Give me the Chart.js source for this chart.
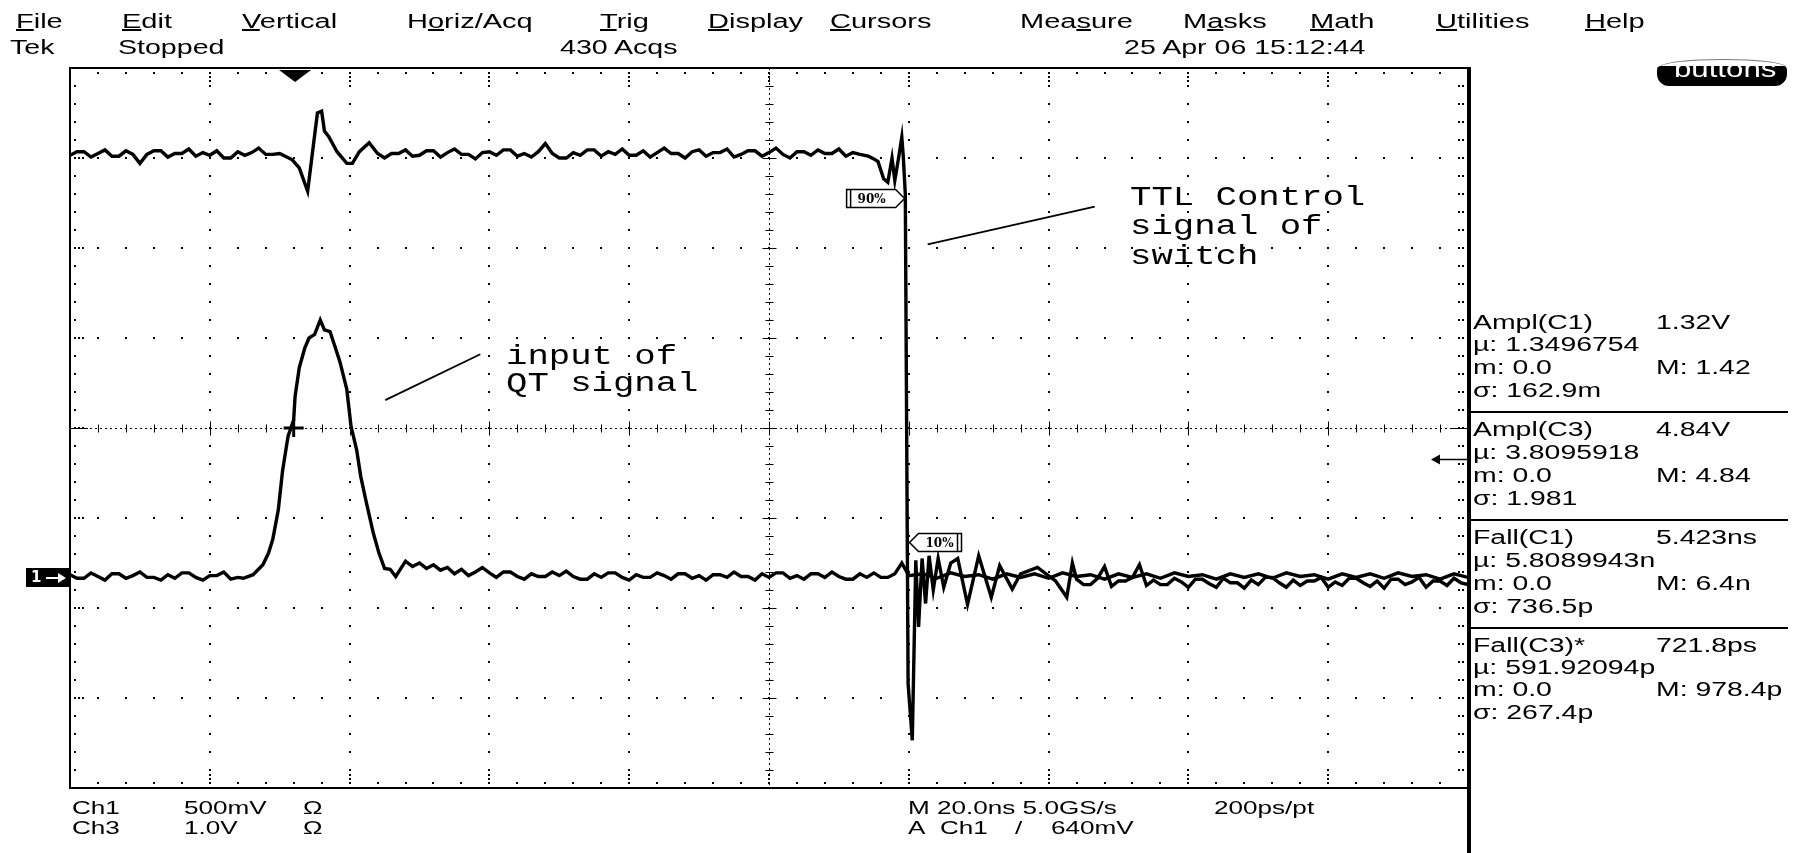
<!DOCTYPE html>
<html>
<head>
<meta charset="utf-8">
<title>Tek scope capture</title>
<script src="https://cdn.jsdelivr.net/npm/chart.js@4.4.1/dist/chart.umd.min.js"></script>
<style>
  html, body { margin: 0; padding: 0; background: #fff; }
  #screen { position: relative; width: 1802px; height: 853px; overflow: hidden; background: #fff; }
  #scope { position: absolute; left: 0; top: 0; }
  .t { position: absolute; white-space: nowrap; color: #000; line-height: 1;
       font-family: "Liberation Sans", Arial, sans-serif; transform-origin: 0 50%; }
  .menu { top: 21px; font-size: 20px; transform: translateY(-50%) scaleX(1.45); }
  .head { top: 46px; font-size: 21px; transform: translateY(-50%) scaleX(1.36); }
  .meas { font-size: 20px; transform: translateY(-50%) scaleX(1.42); }
  .foot { font-size: 18px; transform: translateY(-50%) scaleX(1.45); }
  .note { font-family: "Liberation Mono", "DejaVu Sans Mono", monospace; font-size: 27px;
          transform: translateY(-50%) scaleX(1.32); }
  .sep { position: absolute; left: 1470px; width: 318px; height: 2px; background: #000; }
  #btnRim { position: absolute; left: 1660px; top: 59px; width: 124px; height: 14px;
            border: 1px solid #777; border-radius: 50%; }
  #btn { position: absolute; left: 1657px; top: 66px; width: 130px; height: 20px; background: #000;
         border-radius: 4px 4px 12px 12px; overflow: hidden; }
  #btn span { position: absolute; left: 17px; top: -11px; color: #fff; font-size: 24px;
              font-family: "Liberation Sans", Arial, sans-serif; transform: scaleX(1.3); transform-origin: 0 0; }
</style>
</head>
<body>
<div id="screen">
  <canvas id="scope" width="1802" height="853"></canvas>

  <div class="t menu" style="left:16px"><u>F</u>ile</div>
  <div class="t menu" style="left:122px"><u>E</u>dit</div>
  <div class="t menu" style="left:242px"><u>V</u>ertical</div>
  <div class="t menu" style="left:407px">H<u>o</u>riz/Acq</div>
  <div class="t menu" style="left:600px"><u>T</u>rig</div>
  <div class="t menu" style="left:708px"><u>D</u>isplay</div>
  <div class="t menu" style="left:830px"><u>C</u>ursors</div>
  <div class="t menu" style="left:1020px">Mea<u>s</u>ure</div>
  <div class="t menu" style="left:1183px">M<u>a</u>sks</div>
  <div class="t menu" style="left:1310px"><u>M</u>ath</div>
  <div class="t menu" style="left:1436px"><u>U</u>tilities</div>
  <div class="t menu" style="left:1585px"><u>H</u>elp</div>

  <div class="t head" style="left:10px">Tek</div>
  <div class="t head" style="left:118px">Stopped</div>
  <div class="t head" style="left:560px">430 Acqs</div>
  <div class="t head" style="left:1124px">25 Apr 06 15:12:44</div>

  <div id="btnRim"></div>
  <div id="btn"><span>buttons</span></div>

  <div class="t meas" style="left:1473px;top:322px">Ampl(C1)</div>
  <div class="t meas" style="left:1656px;top:322px">1.32V</div>
  <div class="t meas" style="left:1473px;top:344px">µ: 1.3496754</div>
  <div class="t meas" style="left:1473px;top:367px">m: 0.0</div>
  <div class="t meas" style="left:1656px;top:367px">M: 1.42</div>
  <div class="t meas" style="left:1473px;top:390px">σ: 162.9m</div>
  <div class="sep" style="top:411px"></div>
  <div class="t meas" style="left:1473px;top:429px">Ampl(C3)</div>
  <div class="t meas" style="left:1656px;top:429px">4.84V</div>
  <div class="t meas" style="left:1473px;top:452px">µ: 3.8095918</div>
  <div class="t meas" style="left:1473px;top:475px">m: 0.0</div>
  <div class="t meas" style="left:1656px;top:475px">M: 4.84</div>
  <div class="t meas" style="left:1473px;top:498px">σ: 1.981</div>
  <div class="sep" style="top:519px"></div>
  <div class="t meas" style="left:1473px;top:537px">Fall(C1)</div>
  <div class="t meas" style="left:1656px;top:537px">5.423ns</div>
  <div class="t meas" style="left:1473px;top:560px">µ: 5.8089943n</div>
  <div class="t meas" style="left:1473px;top:583px">m: 0.0</div>
  <div class="t meas" style="left:1656px;top:583px">M: 6.4n</div>
  <div class="t meas" style="left:1473px;top:606px">σ: 736.5p</div>
  <div class="sep" style="top:627px"></div>
  <div class="t meas" style="left:1473px;top:645px">Fall(C3)*</div>
  <div class="t meas" style="left:1656px;top:645px">721.8ps</div>
  <div class="t meas" style="left:1473px;top:667px">µ: 591.92094p</div>
  <div class="t meas" style="left:1473px;top:689px">m: 0.0</div>
  <div class="t meas" style="left:1656px;top:689px">M: 978.4p</div>
  <div class="t meas" style="left:1473px;top:712px">σ: 267.4p</div>

  <div class="t foot" style="left:72px;top:808px">Ch1</div>
  <div class="t foot" style="left:184px;top:808px">500mV</div>
  <div class="t foot" style="left:303px;top:808px">Ω</div>
  <div class="t foot" style="left:72px;top:828px">Ch3</div>
  <div class="t foot" style="left:184px;top:828px">1.0V</div>
  <div class="t foot" style="left:303px;top:828px">Ω</div>
  <div class="t foot" style="left:908px;top:808px">M 20.0ns 5.0GS/s</div>
  <div class="t foot" style="left:1214px;top:808px">200ps/pt</div>
  <div class="t foot" style="left:908px;top:828px">A</div>
  <div class="t foot" style="left:940px;top:828px">Ch1</div>
  <div class="t foot" style="left:1015px;top:828px">/</div>
  <div class="t foot" style="left:1051px;top:828px">640mV</div>

  <div class="t note" style="left:1130px;top:198px">TTL Control</div>
  <div class="t note" style="left:1130px;top:227px">signal of</div>
  <div class="t note" style="left:1130px;top:257px">switch</div>
  <div class="t note" style="left:506px;top:357px">input of</div>
  <div class="t note" style="left:506px;top:384px">QT signal</div>
</div>

<script>
// time in ns (20 ns/div, 10 div), level in screen divisions (8 div)
let majorTimes = [0, 20, 40, 60, 80, 100, 120, 140, 160, 180, 200];
let majorLevels = [-4, -3, -2, -1, 0, 1, 2, 3, 4];

let triggerTime = 32.2;
let triggerLevel = -0.35;
let ch1Ground = -1.65;

// Ch3: TTL control signal (upper trace, 1.0 V/div)
let ch3Lead = [[0,3.03],[1,3.07],[2,3.07],[3,3.01],[4,3.05],[5,3.09],[6,3.02],[7,3.02],[8,3.08],[9,3.04],
  [10,2.94],[11,3.04],[12,3.08],[13,3.08],[14,3.01],[15,3.05],[16,3.05],[17,3.10],[18,3.02],[19,3.06],
  [20,3.03],[21,3.08],[22,3.00],[23,3.00],[24,3.07],[25,3.03],[26,3.06],[27,3.11],[28,3.04],[29,3.04],[30,3.05]];
let ch3Glitch = [[31.8,2.98],[32.8,2.89],[34.0,2.63],[34.8,3.13],[35.4,3.50],[36.0,3.52],[36.4,3.30],
  [37.0,3.24],[38.2,3.07],[39.6,2.94],[40.4,2.94],[41.4,3.07],[42.8,3.17],[44.0,3.05],[45.0,3.00]];
let ch3Flat = [[46,3.05],[47,3.05],[48,3.09],[49,3.02],[50,3.03],[51,3.08],[52,3.08],[53,3.01],[54,3.06],
  [55,3.10],[56,3.04],[57,3.04],[58,2.99],[59,3.06],[60,3.07],[61,3.03],[62,3.09],[63,3.09],[64,3.02],
  [65,3.05],[66,3.01],[67,3.07],[68,3.16],[69,3.05],[70,3.00],[71,3.00],[72,3.06],[73,3.03],[74,3.09],
  [75,3.09],[76,3.02],[77,3.07],[78,3.04],[79,3.10],[80,3.03],[81,3.03],[82,3.08],[83,3.01],[84,3.06],
  [85,3.11],[86,3.05],[87,3.05],[88,3.00],[89,3.07],[90,3.09],[91,3.02],[92,3.06],[93,3.06],[94,3.10],
  [95,3.01],[96,3.04],[97,3.08],[98,3.08],[99,3.02],[100,3.06],[101,3.11],[102,3.04],[103,3.00],[104,3.07],
  [105,3.07],[106,3.03],[107,3.09],[108,3.05],[109,3.05],[110,3.10],[111,3.02],[112,3.06],[113,3.04]];
let ch3Edge = [[114.2,3.02],[115.0,2.99],[115.6,2.96],[116.4,2.77],[117.0,2.73],[117.6,3.00],[118.0,2.75],
  [118.6,3.03],[119.0,3.23],[119.2,3.03],[119.5,2.60],[119.9,-2.84],[120.5,-3.47],[121.0,-1.47],[121.4,-2.21],
  [121.9,-1.45],[122.4,-1.95],[122.9,-1.42],[123.5,-1.80],[124.2,-1.45],[125,-1.77],[126,-1.50],[127,-1.45],
  [128.4,-1.96],[130,-1.42],[131.8,-1.88],[133,-1.53],[134.8,-1.79],[136,-1.62],[138.4,-1.55],[141,-1.70],
  [142.6,-1.88],[143.4,-1.50]];
let ch3Tail = [[144,-1.68],[145,-1.74],[146,-1.74],[147,-1.67],[148,-1.54],[149,-1.76],[150,-1.70],[151,-1.70],
  [152,-1.66],[153,-1.52],[154,-1.75],[155,-1.69],[156,-1.74],[157,-1.74],[158,-1.67],[159,-1.71],[160,-1.77],
  [161,-1.68],[162,-1.68],[163,-1.73],[164,-1.77],[165,-1.67],[166,-1.72],[167,-1.72],[168,-1.78],[169,-1.69],
  [170,-1.74],[171,-1.66],[172,-1.66],[173,-1.72],[174,-1.77],[175,-1.69],[176,-1.75],[177,-1.70],[178,-1.70],
  [179,-1.66],[180,-1.77],[181,-1.71],[182,-1.75],[183,-1.67],[184,-1.67],[185,-1.72],[186,-1.76],[187,-1.70],
  [188,-1.78],[189,-1.68],[190,-1.68],[191,-1.74],[192,-1.71],[193,-1.66],[194,-1.77],[195,-1.70],[196,-1.70],
  [197,-1.75],[198,-1.67],[199,-1.72],[200,-1.74]];

// Ch1: QT input pulse (lower trace, 500 mV/div)
let ch1Lead = [[0,-1.63],[1,-1.67],[2,-1.67],[3,-1.61],[4,-1.65],[5,-1.69],[6,-1.62],[7,-1.62],[8,-1.67],
  [9,-1.64],[10,-1.60],[11,-1.66],[12,-1.66],[13,-1.69],[14,-1.63],[15,-1.67],[16,-1.61],[17,-1.61],
  [18,-1.66],[19,-1.69],[20,-1.64],[21,-1.64],[22,-1.60],[23,-1.68],[24,-1.66]];
let ch1Pulse = [[24.8,-1.67],[26.2,-1.63],[27.6,-1.52],[28.4,-1.39],[29.0,-1.24],[29.8,-0.91],[30.4,-0.48],
  [31.2,-0.09],[32.0,0.09],[32.2,0.35],[32.8,0.67],[33.6,0.89],[34.2,1.00],[35.0,1.04],[35.8,1.20],
  [36.4,1.09],[37.2,1.07],[37.8,0.93],[38.6,0.74],[39.6,0.43],[40.2,0.02],[41.0,-0.24],[41.6,-0.54],
  [42.4,-0.83],[43.4,-1.17],[44.2,-1.39],[45.0,-1.56],[45.8,-1.57],[46.6,-1.65]];
let ch1Tail = [[48,-1.48],[49,-1.54],[50,-1.50],[51,-1.56],[52,-1.52],[53,-1.58],[54,-1.55],[55,-1.62],
  [56,-1.57],[57,-1.64],[58,-1.60],[59,-1.55],[60,-1.61],[61,-1.66],[62,-1.60],[63,-1.60],[64,-1.65],
  [65,-1.68],[66,-1.62],[67,-1.65],[68,-1.65],[69,-1.60],[70,-1.64],[71,-1.59],[72,-1.65],[73,-1.68],
  [74,-1.68],[75,-1.62],[76,-1.66],[77,-1.61],[78,-1.61],[79,-1.66],[80,-1.69],[81,-1.63],[82,-1.66],
  [83,-1.66],[84,-1.61],[85,-1.64],[86,-1.68],[87,-1.62],[88,-1.62],[89,-1.67],[90,-1.64],[91,-1.69],
  [92,-1.63],[93,-1.63],[94,-1.66],[95,-1.60],[96,-1.65],[97,-1.65],[98,-1.69],[99,-1.62],[100,-1.66],
  [101,-1.61],[102,-1.61],[103,-1.67],[104,-1.64],[105,-1.68],[106,-1.62],[107,-1.62],[108,-1.66],
  [109,-1.60],[110,-1.65],[111,-1.68],[112,-1.68],[113,-1.62],[114,-1.66],[115,-1.61],[116,-1.66],
  [117,-1.66],[118,-1.62],[119,-1.50],[120,-1.64],
  [122,-1.62],[124,-1.67],[126,-1.61],[128,-1.65],[130,-1.63],[132,-1.68],[134,-1.62],[136,-1.66],
  [138,-1.62],[140,-1.67],[142,-1.61],[144,-1.65],[146,-1.63],[148,-1.68],[150,-1.62],[152,-1.66],
  [154,-1.62],[156,-1.67],[158,-1.61],[160,-1.65],[162,-1.63],[164,-1.68],[166,-1.62],[168,-1.66],
  [170,-1.62],[172,-1.67],[174,-1.61],[176,-1.65],[178,-1.63],[180,-1.68],[182,-1.62],[184,-1.66],
  [186,-1.62],[188,-1.67],[190,-1.61],[192,-1.65],[194,-1.63],[196,-1.68],[198,-1.62],[200,-1.66]];

// annotation leaders, [ns, div]
let ttlLeader = [[122.7, 2.04], [146.6, 2.46]];
let qtLeader = [[45.1, 0.31], [58.7, 0.82]];

function toPoints(list) {
    return list.map(p => ({ x: p[0], y: p[1] }));
}

let graticule = {
    id: 'graticule',
    beforeDatasetsDraw(chart) {
        const { ctx, chartArea: a, scales: { x, y } } = chart;
        const tMinor = [];
        const vMinor = [];
        for (let i = 0; i <= 50; i++) tMinor.push(i * 4);
        for (let i = 0; i <= 40; i++) vMinor.push(-4 + i * 0.2);
        const px = t => Math.round(x.getPixelForValue(t));
        const py = v => Math.round(y.getPixelForValue(v));
        const dot = (cx, cy) => ctx.fillRect(cx - 1, cy - 1, 2, 2);

        ctx.save();
        ctx.fillStyle = '#000';
        ctx.strokeStyle = '#000';

        // dotted division lines
        majorTimes.forEach(t => {
            if (t === 0 || t === 200 || t === 100) return;
            vMinor.forEach(v => dot(px(t), py(v)));
        });
        majorLevels.forEach(v => {
            if (v === -4 || v === 4 || v === 0) return;
            tMinor.forEach(t => dot(px(t), py(v)));
        });

        // centre cross
        const cx = px(100) + 0.5;
        const cy = py(0) + 0.5;
        ctx.lineWidth = 1;
        ctx.setLineDash([2, 3]);
        ctx.beginPath();
        ctx.moveTo(a.left, cy); ctx.lineTo(a.right, cy);
        ctx.moveTo(cx, a.top); ctx.lineTo(cx, a.bottom);
        ctx.stroke();
        ctx.setLineDash([]);
        ctx.beginPath();
        tMinor.forEach((t, i) => {
            const h = i % 5 === 0 ? 7 : 4;
            ctx.moveTo(px(t) + 0.5, cy - h); ctx.lineTo(px(t) + 0.5, cy + h);
        });
        vMinor.forEach((v, i) => {
            const w = i % 5 === 0 ? 7 : 4;
            ctx.moveTo(cx - w, py(v) + 0.5); ctx.lineTo(cx + w, py(v) + 0.5);
        });
        ctx.moveTo(a.left, cy); ctx.lineTo(a.left + 18, cy);
        ctx.moveTo(a.right - 18, cy); ctx.lineTo(a.right, cy);
        ctx.stroke();

        // edge ticks
        tMinor.forEach((t, i) => {
            dot(px(t), a.top + 5);
            dot(px(t), a.bottom - 5);
            if (i % 5 === 0) {
                dot(px(t), a.top + 9); dot(px(t), a.top + 13);
                dot(px(t), a.bottom - 9); dot(px(t), a.bottom - 13);
            }
        });
        vMinor.forEach((v, i) => {
            dot(a.left + 5, py(v));
            dot(a.right - 5, py(v));
            dot(a.right - 9, py(v));
            if (i % 5 === 0) { dot(a.left + 9, py(v)); dot(a.left + 13, py(v)); }
        });

        // frame
        ctx.lineWidth = 2;
        ctx.strokeRect(a.left, a.top, a.right - a.left, a.bottom - a.top);
        ctx.lineWidth = 4;
        ctx.beginPath();
        ctx.moveTo(a.right + 1, a.top - 1);
        ctx.lineTo(a.right + 1, chart.height);
        ctx.stroke();
        ctx.restore();
    },
    afterDatasetsDraw(chart) {
        const { ctx, chartArea: a, scales: { x, y } } = chart;
        ctx.save();
        ctx.fillStyle = '#000';
        ctx.strokeStyle = '#000';

        // trigger position
        const tx = x.getPixelForValue(triggerTime);
        ctx.beginPath();
        ctx.moveTo(tx - 16, a.top + 2); ctx.lineTo(tx + 16, a.top + 2); ctx.lineTo(tx, a.top + 14);
        ctx.closePath(); ctx.fill();

        // trigger level
        const ty = Math.round(y.getPixelForValue(triggerLevel)) + 0.5;
        ctx.lineWidth = 1.5;
        ctx.beginPath(); ctx.moveTo(a.right, ty); ctx.lineTo(a.right - 32, ty); ctx.stroke();
        ctx.beginPath();
        ctx.moveTo(a.right - 37, ty); ctx.lineTo(a.right - 28, ty - 5); ctx.lineTo(a.right - 28, ty + 5);
        ctx.closePath(); ctx.fill();

        // ch1 ground reference
        const gy = Math.round(y.getPixelForValue(ch1Ground));
        ctx.fillRect(26, gy - 9, 44, 19);
        ctx.fillStyle = '#fff';
        ctx.font = 'bold 15px "DejaVu Sans"';
        ctx.textBaseline = 'middle';
        ctx.fillText('1', 31, gy + 1);
        ctx.fillRect(46, gy, 14, 2);
        ctx.beginPath(); ctx.moveTo(66, gy + 1); ctx.lineTo(58, gy - 4); ctx.lineTo(58, gy + 6); ctx.closePath(); ctx.fill();
        ctx.fillStyle = '#000';

        // measurement cross on pulse
        const mx = x.getPixelForValue(32.0);
        const my = y.getPixelForValue(0);
        ctx.lineWidth = 3;
        ctx.beginPath();
        ctx.moveTo(mx - 10, my); ctx.lineTo(mx + 10, my);
        ctx.moveTo(mx, my - 9); ctx.lineTo(mx, my + 9);
        ctx.stroke();

        // annotation leaders
        ctx.lineWidth = 1.8;
        [ttlLeader, qtLeader].forEach(seg => {
            ctx.beginPath();
            ctx.moveTo(x.getPixelForValue(seg[0][0]), y.getPixelForValue(seg[0][1]));
            ctx.lineTo(x.getPixelForValue(seg[1][0]), y.getPixelForValue(seg[1][1]));
            ctx.stroke();
        });

        // 90% / 10% flags
        const flag = (t, v, w, dir, text) => {
            const fx = x.getPixelForValue(t);
            const fy = Math.round(y.getPixelForValue(v)) + 0.5;
            const h = 9;
            ctx.beginPath();
            ctx.moveTo(fx, fy);
            ctx.lineTo(fx + dir * 9, fy - h);
            ctx.lineTo(fx + dir * w, fy - h);
            ctx.lineTo(fx + dir * w, fy + h);
            ctx.lineTo(fx + dir * 9, fy + h);
            ctx.closePath();
            ctx.fillStyle = '#fff';
            ctx.fill();
            ctx.lineWidth = 1.5;
            ctx.stroke();
            ctx.beginPath();
            ctx.moveTo(fx + dir * (w - 4), fy - h); ctx.lineTo(fx + dir * (w - 4), fy + h);
            ctx.stroke();
            ctx.fillStyle = '#000';
            ctx.font = 'bold 12px "DejaVu Serif"';
            ctx.textAlign = 'center';
            ctx.textBaseline = 'middle';
            ctx.fillText(text, fx + dir * (w + 8) / 2, fy + 1);
        };
        flag(119.4, 2.56, 58, -1, '90%');
        flag(120.1, -1.27, 52, 1, '10%');
        ctx.restore();
    }
};

let ctx = document.getElementById('scope');

new Chart(ctx, {
    type: 'scatter',
    data: {
        datasets: [{
            label: 'Ch3',
            data: toPoints([].concat(ch3Lead, ch3Glitch, ch3Flat, ch3Edge, ch3Tail)),
            showLine: true,
            borderColor: '#000',
            borderWidth: 3.4,
            borderJoinStyle: 'miter',
            pointRadius: 0,
            tension: 0
        }, {
            label: 'Ch1',
            data: toPoints([].concat(ch1Lead, ch1Pulse, ch1Tail)),
            showLine: true,
            borderColor: '#000',
            borderWidth: 3.4,
            borderJoinStyle: 'miter',
            pointRadius: 0,
            tension: 0
        }]
    },
    options: {
        responsive: false,
        animation: false,
        layout: { padding: { left: 70, top: 68, right: 334, bottom: 65 } },
        scales: {
            x: { type: 'linear', min: 0, max: 200, display: false },
            y: { type: 'linear', min: -4, max: 4, display: false }
        },
        plugins: {
            legend: { display: false },
            tooltip: { enabled: false }
        }
    },
    plugins: [graticule]
});
</script>
</body>
</html>
